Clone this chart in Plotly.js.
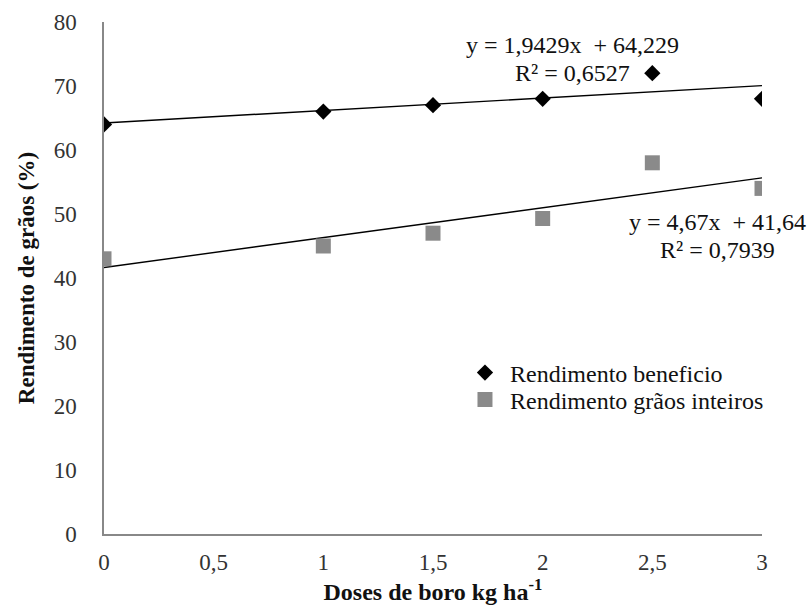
<!DOCTYPE html>
<html>
<head>
<meta charset="utf-8">
<script src="https://cdn.plot.ly/plotly-3.0.1.min.js"></script>
</head>
<body style="margin:0;padding:0;background:#fff;">
<div id="chart"></div>
<script>
// Data
const doses = [0, 1, 1.5, 2, 2.5, 3];
const rendBeneficio = [64, 66, 67, 68, 72, 68];
const rendGraosInteiros = [43, 45, 47, 49.3, 58, 54];
const seriesNames = ['Rendimento beneficio', 'Rendimento grãos inteiros'];
// Trend lines (linear, from the chart's equations)
const trendSlope = [1.9429, 4.67];
const trendIntercept = [64.229, 41.64];
const trendX = [0, 3];
const eqLabels = ['y = 1,9429x  + 64,229', 'y = 4,67x  + 41,64'];
const r2Labels = ['R² = 0,6527', 'R² = 0,7939'];
const xTickVals = [0, 0.5, 1, 1.5, 2, 2.5, 3];
const xTickText = ['0', '0,5', '1', '1,5', '2', '2,5', '3'];
const yTickVals = [0, 10, 20, 30, 40, 50, 60, 70, 80];

const SERIF = 'Liberation Serif';

const trendTraces = trendSlope.map((m, i) => ({
  x: trendX,
  y: trendX.map(v => m * v + trendIntercept[i]),
  mode: 'lines',
  line: {color: '#000', width: 1.4},
  showlegend: false,
  hoverinfo: 'skip'
}));

const data = [
  trendTraces[0], trendTraces[1],
  {
    x: doses, y: rendBeneficio, mode: 'markers', name: seriesNames[0],
    marker: {symbol: 'diamond', size: 12.5, color: '#000'}, legend: 'legend'
  },
  {
    x: doses, y: rendGraosInteiros, mode: 'markers', name: seriesNames[1],
    marker: {symbol: 'square', size: 15, color: '#8a8a8a'}, legend: 'legend2'
  }
];

const legFont = {family: SERIF, size: 24, color: '#111'};
const annFont = {family: SERIF, size: 24, color: '#111'};
const layout = {
  width: 810, height: 614,
  margin: {l: 104, r: 48, t: 22, b: 80},
  paper_bgcolor: '#fff', plot_bgcolor: '#fff',
  font: {family: SERIF, color: '#222', size: 22},
  showlegend: true,
  legend: {
    x: 0.541, y: (534 - 373) / 512, xanchor: 'left', yanchor: 'middle',
    font: legFont, bgcolor: 'rgba(0,0,0,0)', itemwidth: 40
  },
  legend2: {
    x: 0.541, y: (534 - 400) / 512, xanchor: 'left', yanchor: 'middle',
    font: legFont, bgcolor: 'rgba(0,0,0,0)', itemwidth: 40
  },
  xaxis: {
    range: [0, 3], tickvals: xTickVals, ticktext: xTickText,
    showgrid: false, zeroline: false, showline: true,
    linecolor: '#888', linewidth: 1.5, ticks: '',
    ticklabelstandoff: 7,
    tickfont: {family: SERIF, size: 23, color: '#333'},
    title: {text: '<b>Doses de boro kg ha<sup>-1</sup></b>', font: {family: SERIF, size: 24, color: '#111'}, standoff: 9}
  },
  yaxis: {
    range: [0, 80], tickvals: yTickVals,
    showgrid: false, zeroline: false, showline: true,
    linecolor: '#888', linewidth: 1.5, ticks: '',
    ticklabelstandoff: 21,
    tickfont: {family: SERIF, size: 23, color: '#333'},
    title: {text: '<b>Rendimento de grãos (%)</b>', font: {family: SERIF, size: 23, color: '#111'}, standoff: 13}
  },
  annotations: [
    {xref: 'paper', yref: 'paper', x: (572 - 104) / 658, y: (534 - 45) / 512, text: eqLabels[0], showarrow: false, font: annFont, xanchor: 'center', yanchor: 'middle'},
    {xref: 'paper', yref: 'paper', x: (572 - 104) / 658, y: (534 - 73) / 512, text: r2Labels[0], showarrow: false, font: annFont, xanchor: 'center', yanchor: 'middle'},
    {xref: 'paper', yref: 'paper', x: (717 - 104) / 658, y: (534 - 222) / 512, text: eqLabels[1], showarrow: false, font: annFont, xanchor: 'center', yanchor: 'middle'},
    {xref: 'paper', yref: 'paper', x: (717 - 104) / 658, y: (534 - 250) / 512, text: r2Labels[1], showarrow: false, font: annFont, xanchor: 'center', yanchor: 'middle'}
  ]
};

Plotly.newPlot('chart', data, layout, {displayModeBar: false});
</script>
</body>
</html>
